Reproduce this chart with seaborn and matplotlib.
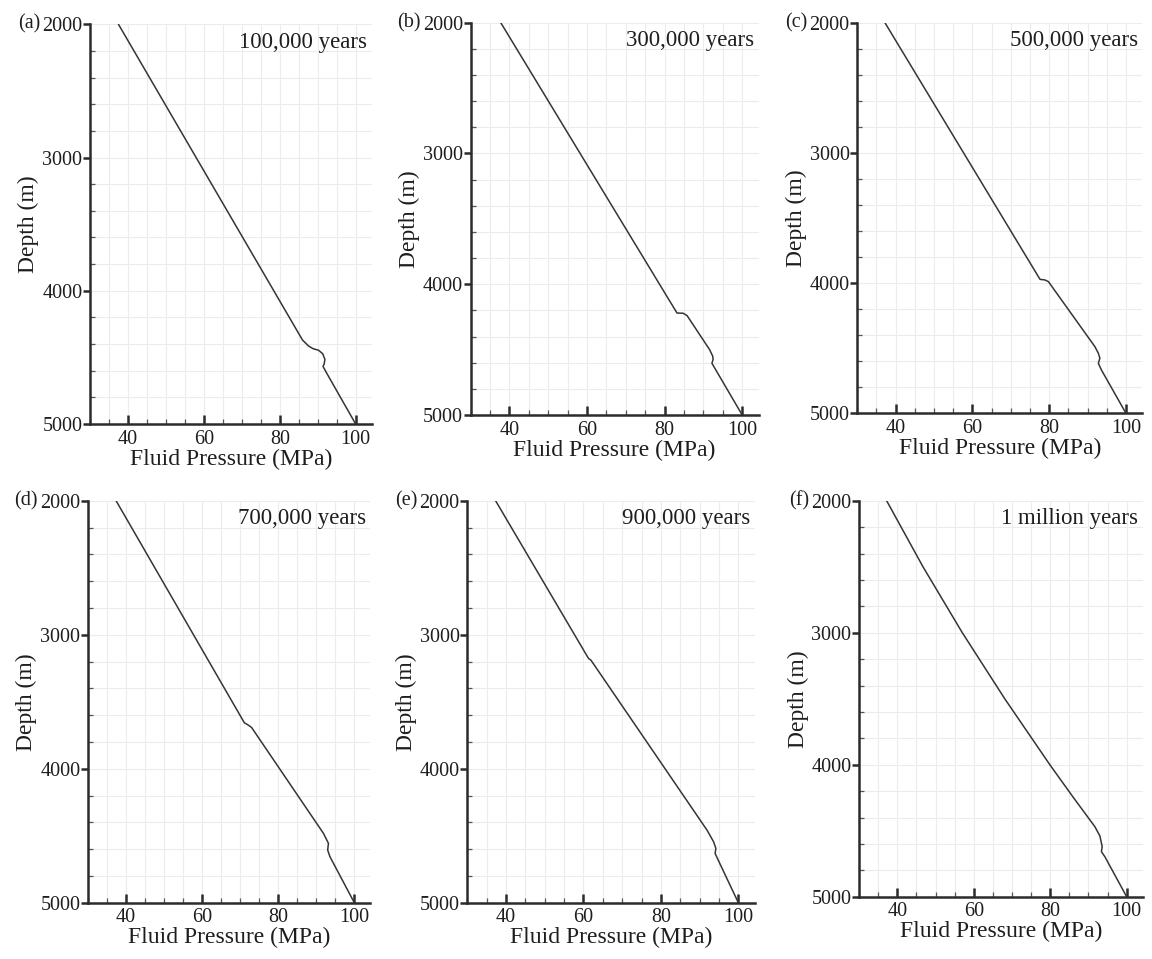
import matplotlib
matplotlib.use("Agg")
import matplotlib.pyplot as plt
import seaborn as sns
from matplotlib.ticker import MultipleLocator

# ---- data ----
labels = ["(a)", "(b)", "(c)", "(d)", "(e)", "(f)"]
times = ["100,000 years", "300,000 years", "500,000 years",
         "700,000 years", "900,000 years", "1 million years"]

a_P = [37.5, 86.0, 87.6, 88.8, 90.2, 91.3, 91.9, 91.7, 91.4, 92.4, 100.0]
a_D = [2000, 4370, 4415, 4435, 4446, 4472, 4515, 4550, 4568, 4620, 5000]

b_P = [37.8, 83.2, 84.8, 85.8, 91.6, 92.4, 92.5, 92.2, 92.9, 100.0]
b_D = [2000, 4220, 4222, 4240, 4500, 4550, 4575, 4605, 4640, 5000]

c_P = [37.2, 77.6, 78.9, 79.8, 91.9, 92.8, 93.2, 92.8, 93.6, 100.0]
c_D = [2000, 3971, 3976, 3989, 4488, 4539, 4577, 4616, 4667, 5000]

d_P = [37.4, 71.1, 72.1, 73.0, 91.9, 93.2, 93.0, 93.6, 100.0]
d_D = [2000, 3657, 3674, 3692, 4483, 4557, 4607, 4657, 5000]

e_P = [37.3, 61.3, 61.9, 62.5, 91.9, 93.6, 94.2, 94.0, 94.8, 100.0]
e_D = [2000, 3177, 3189, 3214, 4458, 4545, 4595, 4632, 4682, 5000]

f_P = [37.2, 46.7, 57.0, 68.1, 79.9, 86.1, 91.7, 93.0, 93.6, 93.4, 94.3, 100.0]
f_D = [2000, 2500, 3000, 3500, 4000, 4250, 4470, 4540, 4621, 4659, 4697, 5000]

pressures = [a_P, b_P, c_P, d_P, e_P, f_P]
depths = [a_D, b_D, c_D, d_D, e_D, f_D]

x_ticks = [40, 60, 80, 100]
y_ticks = [2000, 3000, 4000, 5000]

# ---- style ----
sns.set_theme(style="white")
plt.rcParams["font.family"] = ["Liberation Serif", "DejaVu Serif"]

W, H = 1152, 959
fig = plt.figure(figsize=(W / 100, H / 100), dpi=100)

# axes boxes in pixels: left, top, width, bottom
boxes = [
    (90.0, 24.3, 281.6, 424.0),
    (470.5, 22.7, 288.0, 415.0),
    (857.3, 22.7, 284.8, 413.3),
    (87.9, 500.7, 282.4, 902.7),
    (467.3, 500.7, 287.3, 902.7),
    (859.1, 500.7, 283.6, 896.7),
]

spine_col = "#2b2b2b"
txt_col = "#1e1e1e"
for i in range(6):
    l, t, w, b = boxes[i]
    ax = fig.add_axes([l / W, 1 - b / H, w / W, (b - t) / H])
    sns.lineplot(x=pressures[i], y=depths[i], sort=False, estimator=None,
                 color="#353535", linewidth=1.1, ax=ax)
    ax.set_xlim(30, 104.2)
    ax.set_ylim(5000, 2000)
    ax.set_xticks(x_ticks)
    ax.set_yticks(y_ticks)
    ax.xaxis.set_minor_locator(MultipleLocator(5))
    ax.yaxis.set_minor_locator(MultipleLocator(200))
    ax.grid(True, which="both", color="#ececec", linewidth=0.8)
    ax.set_axisbelow(True)
    for s in ["top", "right"]:
        ax.spines[s].set_visible(False)
    for s in ["left", "bottom"]:
        ax.spines[s].set_color(spine_col)
        ax.spines[s].set_linewidth(1.8)
    ax.tick_params(which="both", bottom=True, left=True, top=False, right=False)
    ax.tick_params(axis="x", which="major", direction="in", length=6.5,
                   width=1.8, color=spine_col, labelsize=14.5, pad=4,
                   labelcolor=txt_col)
    ax.tick_params(axis="x", which="minor", direction="in", length=3.5,
                   width=0.9, color="#555555")
    ax.tick_params(axis="y", which="major", direction="out", length=5,
                   width=1.8, color=spine_col, labelsize=14.5, pad=0.5,
                   labelcolor=txt_col)
    ax.tick_params(axis="y", which="minor", direction="in", length=3.5,
                   width=0.9, color="#555555")
    ax.set_xlabel("Fluid Pressure (MPa)", fontsize=17, labelpad=0,
                  color=txt_col)
    ax.set_ylabel("Depth (m)", fontsize=17, labelpad=2, color=txt_col)
    ax.text(0.985, 0.955, times[i], transform=ax.transAxes, ha="right",
            va="center", fontsize=16.5, color=txt_col)
    ax.annotate(labels[i], xy=(0, 1), xycoords="axes fraction",
                xytext=(-36, 0), textcoords="offset points",
                ha="right", va="center", fontsize=14.5, color=txt_col)

fig.savefig("out.png", dpi=100, facecolor="white")
